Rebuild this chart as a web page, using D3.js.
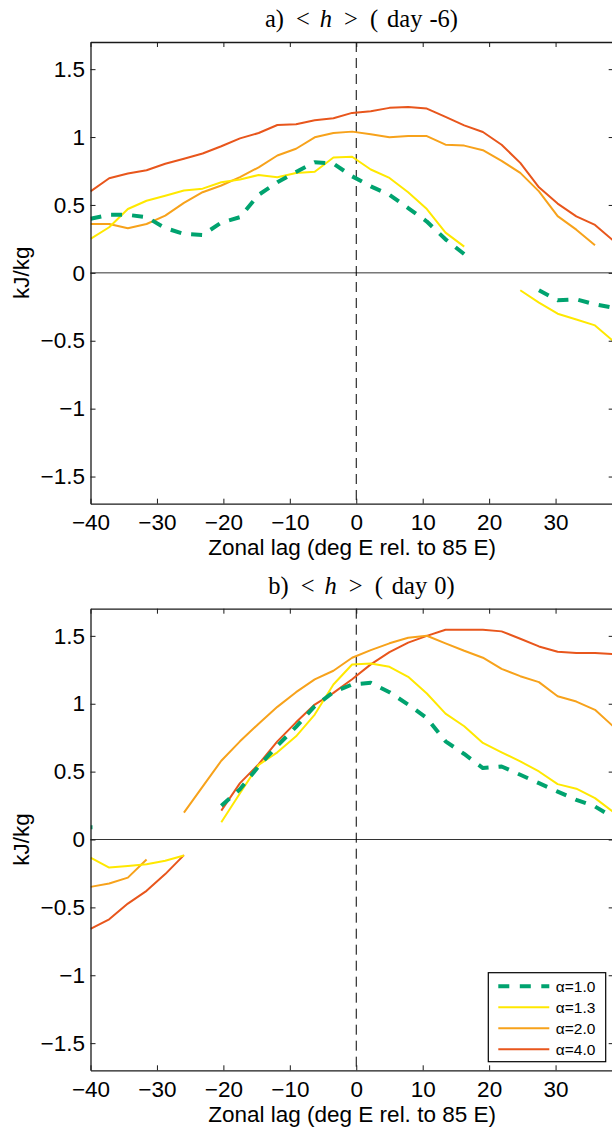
<!DOCTYPE html>
<html><head><meta charset="utf-8">
<script src="https://cdn.jsdelivr.net/npm/d3@7"></script>
<style>body{margin:0;background:#fff} svg{display:block}</style>
</head><body><svg id="c" width="612" height="1129"></svg>
<script>
// ---------- data ----------
const lags = [-40, -37.1875, -34.375, -31.5625, -28.75, -25.9375, -23.125, -20.3125, -17.5, -14.6875,
  -11.875, -9.0625, -6.25, -3.4375, -0.625, 2.1875, 5, 7.8125, 10.625, 13.4375,
  16.25, 19.0625, 21.875, 24.6875, 27.5, 30.3125, 33.125, 35.9375, 38.75];
const xTicks = [-40, -30, -20, -10, 0, 10, 20, 30];
const yTicks = [-1.5, -1, -0.5, 0, 0.5, 1, 1.5];
const seriesNames = ["α=1.0", "α=1.3", "α=2.0", "α=4.0"];
const seriesColors = ["#00A36F", "#FFE800", "#F7A21B", "#E8561C"];
const panelTitles = [["a)", "day -6)"], ["b)", "day 0)"]];
const xLabel = "Zonal lag (deg E rel. to 85 E)";
const yLabel = "kJ/kg";

// panel a (day -6)
const dayM6_a10 = [0.398, 0.427, 0.427, 0.410, 0.330, 0.287, 0.279, 0.370, 0.410, 0.575, 0.667, 0.743, 0.815, 0.805, 0.711, 0.637, 0.575, 0.477, 0.378, 0.247, 0.138, null, null, null, -0.128, -0.202, -0.195, -0.232, -0.258];
const dayM6_a13 = [0.250, 0.336, 0.470, 0.531, 0.568, 0.607, 0.620, 0.667, 0.687, 0.721, 0.704, 0.736, 0.744, 0.850, 0.855, 0.761, 0.699, 0.593, 0.470, 0.296, 0.193, null, null, -0.128, -0.219, -0.301, -0.343, -0.387, -0.505];
const dayM6_a20 = [0.360, 0.360, 0.328, 0.360, 0.421, 0.515, 0.594, 0.643, 0.705, 0.777, 0.864, 0.914, 0.998, 1.030, 1.040, 1.020, 0.998, 1.007, 1.007, 0.944, 0.937, 0.903, 0.825, 0.736, 0.600, 0.418, 0.318, 0.204, null];
const dayM6_a40 = [0.600, 0.697, 0.731, 0.756, 0.803, 0.840, 0.879, 0.932, 0.990, 1.030, 1.089, 1.094, 1.123, 1.138, 1.178, 1.190, 1.215, 1.222, 1.210, 1.148, 1.086, 1.037, 0.943, 0.810, 0.630, 0.510, 0.416, 0.353, 0.235];
// panel b (day 0)
const day0_a10 = [0.09, null, null, null, null, null, null, 0.248, 0.370, 0.540, 0.690, 0.830, 0.982, 1.085, 1.142, 1.154, 1.085, 0.994, 0.895, 0.723, 0.630, 0.526, 0.538, 0.477, 0.415, 0.353, 0.292, 0.243, 0.160];
const day0_a13 = [-0.133, -0.207, -0.195, -0.183, -0.157, -0.118, null, 0.127, 0.341, 0.550, 0.642, 0.760, 0.920, 1.142, 1.289, 1.297, 1.272, 1.198, 1.075, 0.927, 0.834, 0.711, 0.642, 0.575, 0.501, 0.408, 0.374, 0.305, 0.200];
const day0_a20 = [-0.349, -0.324, -0.281, -0.147, null, 0.198, 0.390, 0.580, 0.723, 0.853, 0.977, 1.085, 1.179, 1.243, 1.339, 1.395, 1.445, 1.486, 1.501, 1.445, 1.390, 1.339, 1.257, 1.203, 1.159, 1.055, 1.016, 0.955, 0.830];
const day0_a40 = [-0.659, -0.588, -0.472, -0.378, -0.255, -0.115, null, 0.213, 0.415, 0.555, 0.723, 0.863, 0.994, 1.080, 1.180, 1.290, 1.380, 1.450, 1.500, 1.545, 1.545, 1.545, 1.533, 1.479, 1.422, 1.383, 1.373, 1.373, 1.366];

const panelSeries = [
  [dayM6_a10, dayM6_a13, dayM6_a20, dayM6_a40],
  [day0_a10, day0_a13, day0_a20, day0_a40]
];

// ---------- layout ----------
const left = 90.5, right = 613.7;
const panels = [{top: 42, bottom: 503.7}, {top: 608.7, bottom: 1070.3}];
const sans = "'Liberation Sans', Arial, Helvetica, sans-serif";
const serif = "'Liberation Serif', 'Times New Roman', serif";
const fs = 22.5;

const svg = d3.select("#c");
const x = d3.scaleLinear().domain([-40, 38.75]).range([left, right]);

panels.forEach((p, pi) => {
  const y = d3.scaleLinear().domain([-1.7, 1.7]).range([p.bottom, p.top]);
  const g = svg.append("g");
  const clipId = "clip" + pi;
  svg.append("clipPath").attr("id", clipId).append("rect")
    .attr("x", left).attr("y", p.top).attr("width", right - left).attr("height", p.bottom - p.top);

  // zero line
  g.append("line").attr("x1", x(-40)).attr("x2", x(38.75)).attr("y1", y(0)).attr("y2", y(0))
    .attr("stroke", "#333").attr("stroke-width", 1);
  // vertical dashed at 0
  g.append("line").attr("x1", x(0)).attr("x2", x(0)).attr("y1", p.top).attr("y2", p.bottom)
    .attr("stroke", "#000").attr("stroke-width", 1).attr("stroke-dasharray", "10,6");

  // series
  const plot = g.append("g").attr("clip-path", `url(#${clipId})`);
  const order = [3, 2, 1, 0];
  order.forEach(si => {
    const vals = panelSeries[pi][si];
    const pts = lags.map((l, i) => [l, vals[i]]);
    const line = d3.line().defined(d => d[1] !== null).x(d => x(d[0])).y(d => y(d[1]));
    const isDash = si === 0;
    plot.append("path").attr("d", line(pts)).attr("fill", "none")
      .attr("stroke", seriesColors[si]).attr("stroke-width", isDash ? 4 : 2)
      .attr("stroke-linejoin", "round")
      .attr("stroke-dasharray", isDash ? "11,10" : null);
    // isolated points
    pts.forEach((d, i) => {
      if (d[1] === null) return;
      const prev = i > 0 ? pts[i - 1][1] : null, next = i < pts.length - 1 ? pts[i + 1][1] : null;
      if (prev === null && next === null) {
        plot.append("path").attr("d", `M${x(d[0])},${y(d[1])}h2`)
          .attr("stroke", seriesColors[si]).attr("stroke-width", isDash ? 4 : 2);
      }
    });
  });

  // axes
  const fmt = d3.format("");
  const axB = g.append("g").attr("transform", `translate(0,${p.bottom})`)
    .call(d3.axisBottom(x).tickValues(xTicks).tickSize(-5).tickSizeOuter(0).tickPadding(10.4).tickFormat(fmt));
  const axT = g.append("g").attr("transform", `translate(0,${p.top})`)
    .call(d3.axisTop(x).tickValues(xTicks).tickSize(-5).tickSizeOuter(0).tickFormat(""));
  const axL = g.append("g").attr("transform", `translate(${left},0)`)
    .call(d3.axisLeft(y).tickValues(yTicks).tickSize(-5).tickSizeOuter(0).tickPadding(5.5).tickFormat(fmt));
  const axR = g.append("g").attr("transform", `translate(${right},0)`)
    .call(d3.axisRight(y).tickValues(yTicks).tickSize(-5).tickSizeOuter(0).tickFormat(""));
  [axB, axT, axL, axR].forEach(a => {
    a.select(".domain").attr("stroke", "#1a1a1a").attr("stroke-width", 1.3);
    a.selectAll(".tick line").attr("stroke", "#1a1a1a").attr("stroke-width", 1);
    a.selectAll("text").attr("font-family", sans).attr("font-size", fs).attr("fill", "#000");
  });

  // title
  const t = svg.append("text").attr("x", 361.5).attr("y", p.top - 15)
    .attr("text-anchor", "middle").attr("font-family", serif).attr("font-size", 24.5).attr("fill", "#000");
  t.append("tspan").text(panelTitles[pi][0]);
  t.append("tspan").attr("dx", 12).text("<");
  t.append("tspan").attr("dx", 10).attr("font-style", "italic").text("h");
  t.append("tspan").attr("dx", 12).text(">");
  t.append("tspan").attr("dx", 12).text("(");
  t.append("tspan").attr("dx", 9).text(panelTitles[pi][1].split(" ")[0]);
  t.append("tspan").attr("dx", 7).text(panelTitles[pi][1].split(" ")[1]);

  // axis labels
  svg.append("text").attr("x", (left + right) / 2).attr("y", p.bottom + 51.4)
    .attr("text-anchor", "middle").attr("font-family", sans).attr("font-size", fs).text(xLabel);
  svg.append("text").attr("transform", `translate(28.5,${(p.top + p.bottom) / 2}) rotate(-90)`)
    .attr("text-anchor", "middle").attr("font-family", sans).attr("font-size", fs).text(yLabel);

  // legend (panel b)
  if (pi === 1) {
    const lw = 117.4, lh = 89;
    const lx = right - 8 - lw, ly = p.bottom - 8.6 - lh;
    const lg = svg.append("g").attr("transform", `translate(${lx},${ly})`);
    lg.append("rect").attr("width", lw).attr("height", lh).attr("fill", "#fff")
      .attr("stroke", "#000").attr("stroke-width", 1.2);
    seriesNames.forEach((n, i) => {
      const ry = 13.5 + i * 21;
      lg.append("line").attr("x1", 10).attr("x2", 61).attr("y1", ry).attr("y2", ry)
        .attr("stroke", seriesColors[i]).attr("stroke-width", i === 0 ? 4 : 2)
        .attr("stroke-dasharray", i === 0 ? "11,10.5" : null);
      lg.append("text").attr("x", 67.5).attr("y", ry + 5.5).attr("font-family", sans)
        .attr("font-size", 15.5).attr("fill", "#000").text(n);
    });
  }
});
</script></body></html>
